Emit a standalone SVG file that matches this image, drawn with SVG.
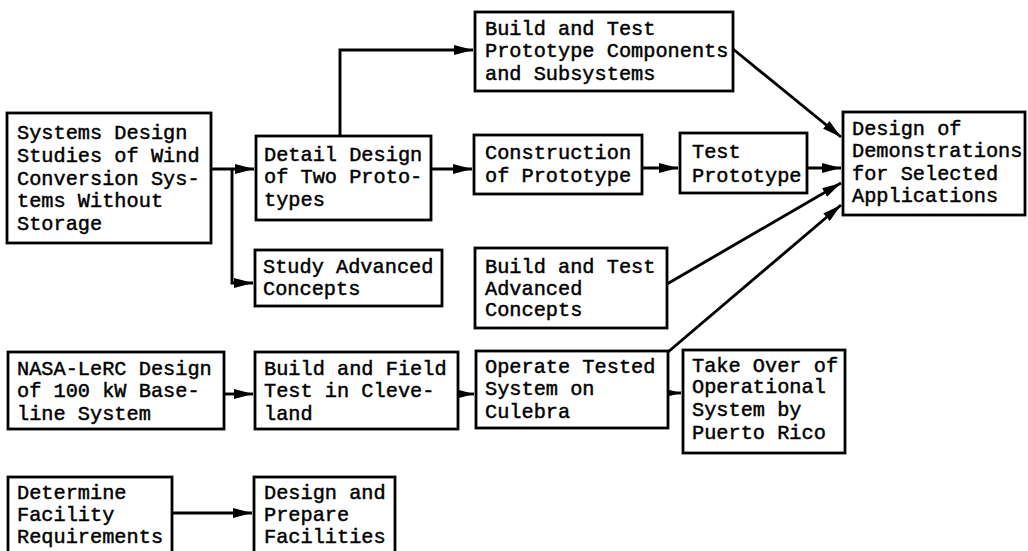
<svg xmlns="http://www.w3.org/2000/svg" width="1028" height="551" viewBox="0 0 1028 551">
<style>
.box{fill:#fff;stroke:#000;stroke-width:2.8}
.t{font-family:"Liberation Mono","DejaVu Sans Mono",monospace;font-size:20.3px;fill:#000;stroke:#000;stroke-width:0.45}
.c{fill:none;stroke:#000;stroke-width:2.9}
</style>
<defs>
<marker id="ah" markerUnits="userSpaceOnUse" markerWidth="20" markerHeight="12" refX="19" refY="6" orient="auto">
<path d="M0,1 L19,6 L0,11 Z" fill="#000"/>
</marker>
</defs>
<rect width="1028" height="551" fill="#fff"/>
<g id="connectors">
<path class="c" d="M211,169 H254" marker-end="url(#ah)"/>
<path class="c" d="M232,169 V283 H253" marker-end="url(#ah)"/>
<path class="c" d="M340,136 V50 H473" marker-end="url(#ah)"/>
<path class="c" d="M431,169 H472" marker-end="url(#ah)"/>
<path class="c" d="M642,168 H678" marker-end="url(#ah)"/>
<path class="c" d="M807,168 H841" marker-end="url(#ah)"/>
<path class="c" d="M733,49 L841,137" marker-end="url(#ah)"/>
<path class="c" d="M667,284 L841,183" marker-end="url(#ah)"/>
<path class="c" d="M668,352 L841,205" marker-end="url(#ah)"/>
<path class="c" d="M224,394 H253" marker-end="url(#ah)"/>
<path class="c" d="M458,394 H474" marker-end="url(#ah)"/>
<path class="c" d="M668,393 H681" marker-end="url(#ah)"/>
<path class="c" d="M172,513 H252" marker-end="url(#ah)"/>
</g>
<g id="sys">
<rect class="box" x="7" y="113" width="204" height="130"/>
<text class="t" x="17" y="139">Systems Design</text>
<text class="t" x="17" y="162">Studies of Wind</text>
<text class="t" x="17" y="185">Conversion Sys-</text>
<text class="t" x="17" y="207">tems Without</text>
<text class="t" x="17" y="230">Storage</text>
</g>
<g id="detail">
<rect class="box" x="256" y="136" width="175" height="84"/>
<text class="t" x="264" y="161">Detail Design</text>
<text class="t" x="264" y="183">of Two Proto-</text>
<text class="t" x="264" y="206">types</text>
</g>
<g id="btproto">
<rect class="box" x="475" y="12" width="258" height="79"/>
<text class="t" x="485" y="35">Build and Test</text>
<text class="t" x="485" y="57">Prototype Components</text>
<text class="t" x="485" y="80">and Subsystems</text>
</g>
<g id="constr">
<rect class="box" x="474" y="135" width="168" height="59"/>
<text class="t" x="485" y="159">Construction</text>
<text class="t" x="485" y="182">of Prototype</text>
</g>
<g id="testproto">
<rect class="box" x="680" y="133" width="127" height="60"/>
<text class="t" x="692" y="158">Test</text>
<text class="t" x="692" y="182">Prototype</text>
</g>
<g id="demo">
<rect class="box" x="843" y="112" width="182" height="103"/>
<text class="t" x="852" y="135">Design of</text>
<text class="t" x="852" y="157">Demonstrations</text>
<text class="t" x="852" y="180">for Selected</text>
<text class="t" x="852" y="202">Applications</text>
</g>
<g id="study">
<rect class="box" x="255" y="250" width="187" height="56"/>
<text class="t" x="263" y="273">Study Advanced</text>
<text class="t" x="263" y="295">Concepts</text>
</g>
<g id="btadv">
<rect class="box" x="475" y="248" width="192" height="80"/>
<text class="t" x="485" y="273">Build and Test</text>
<text class="t" x="485" y="295">Advanced</text>
<text class="t" x="485" y="316">Concepts</text>
</g>
<g id="nasa">
<rect class="box" x="8" y="352" width="216" height="77"/>
<text class="t" x="17" y="375">NASA-LeRC Design</text>
<text class="t" x="17" y="397">of 100 kW Base-</text>
<text class="t" x="17" y="420">line System</text>
</g>
<g id="bfield">
<rect class="box" x="255" y="352" width="203" height="77"/>
<text class="t" x="264" y="375">Build and Field</text>
<text class="t" x="264" y="397">Test in Cleve-</text>
<text class="t" x="264" y="420">land</text>
</g>
<g id="operate">
<rect class="box" x="476" y="351" width="192" height="77"/>
<text class="t" x="485" y="373">Operate Tested</text>
<text class="t" x="485" y="395">System on</text>
<text class="t" x="485" y="418">Culebra</text>
</g>
<g id="takeover">
<rect class="box" x="683" y="350" width="162" height="103"/>
<text class="t" x="692" y="372">Take Over of</text>
<text class="t" x="692" y="393">Operational</text>
<text class="t" x="692" y="416">System by</text>
<text class="t" x="692" y="439">Puerto Rico</text>
</g>
<g id="determine">
<rect class="box" x="8" y="477" width="164" height="85"/>
<text class="t" x="17" y="499">Determine</text>
<text class="t" x="17" y="521">Facility</text>
<text class="t" x="17" y="543">Requirements</text>
</g>
<g id="prepare">
<rect class="box" x="254" y="477" width="141" height="85"/>
<text class="t" x="264" y="499">Design and</text>
<text class="t" x="264" y="521">Prepare</text>
<text class="t" x="264" y="543">Facilities</text>
</g>
</svg>
